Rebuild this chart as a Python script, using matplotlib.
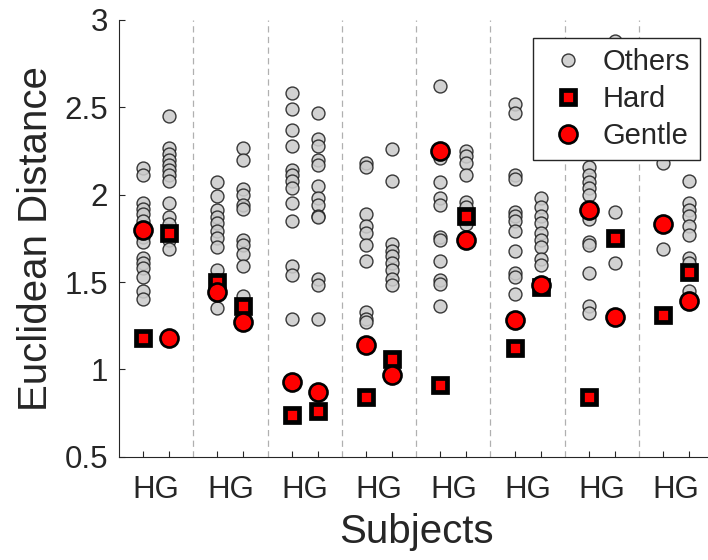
import matplotlib
matplotlib.use('Agg')
import matplotlib.pyplot as plt

subjects = [1, 2, 3, 4, 5, 6, 7, 8]
group_labels = ['HG'] * 8

# gray "Others" points, one list per subject, for the H column and the G column
others_h = [
  [2.15, 2.11, 1.95, 1.92, 1.89, 1.85, 1.76, 1.73, 1.64, 1.61, 1.58, 1.53, 1.45, 1.40],
  [2.07, 1.99, 1.91, 1.87, 1.84, 1.79, 1.75, 1.70, 1.57, 1.51, 1.35],
  [2.58, 2.49, 2.37, 2.28, 2.14, 2.11, 2.08, 2.04, 1.95, 1.85, 1.59, 1.54, 1.29],
  [2.18, 2.16, 1.89, 1.82, 1.78, 1.71, 1.62, 1.33, 1.29, 1.27],
  [2.62, 2.21, 2.07, 1.98, 1.94, 1.76, 1.74, 1.62, 1.51, 1.49, 1.36],
  [2.52, 2.47, 2.11, 2.09, 1.90, 1.88, 1.85, 1.79, 1.68, 1.55, 1.53, 1.43],
  [2.16, 2.11, 2.07, 2.04, 2.00, 1.86, 1.73, 1.71, 1.55, 1.36, 1.32],
  [2.18, 1.69],
]
others_g = [
  [2.45, 2.27, 2.23, 2.20, 2.17, 2.14, 2.11, 2.08, 1.95, 1.87, 1.83, 1.74, 1.69],
  [2.27, 2.20, 2.03, 2.00, 1.94, 1.92, 1.74, 1.71, 1.66, 1.59, 1.42],
  [2.47, 2.32, 2.28, 2.20, 2.17, 2.05, 1.98, 1.94, 1.88, 1.87, 1.52, 1.48, 1.29],
  [2.26, 2.08, 1.72, 1.68, 1.65, 1.61, 1.57, 1.52, 1.48],
  [2.25, 2.22, 2.18, 2.11, 1.96, 1.93, 1.86, 1.83],
  [1.98, 1.93, 1.88, 1.84, 1.78, 1.74, 1.70, 1.63, 1.60],
  [2.88, 1.90, 1.61],
  [2.08, 1.95, 1.91, 1.88, 1.82, 1.77, 1.64, 1.61, 1.45],
]

hard_h = [1.18, 1.50, 0.74, 0.84, 0.91, 1.12, 0.84, 1.31]
hard_g = [1.78, 1.36, 0.76, 1.06, 1.88, 1.47, 1.75, 1.56]
gentle_h = [1.80, 1.44, 0.93, 1.14, 2.25, 1.28, 1.91, 1.83]
gentle_g = [1.18, 1.27, 0.87, 0.97, 1.74, 1.48, 1.30, 1.39]

off = 0.175
dark = '#262626'

plt.rcParams['font.family'] = ['Liberation Sans', 'DejaVu Sans']

fig = plt.figure(figsize=(7.08, 5.6), dpi=100)
ax = fig.add_axes([0.1681, 0.1845, 0.8395, 0.7798])

# dashed separators between subjects
for k in subjects[:-1]:
  ax.axvline(k + 0.5, color='#b0b0b0', linestyle=(0, (5, 3.5)), linewidth=0.9, zorder=1)

gray_face = (0.8, 0.8, 0.8, 0.88)
gray_edge = (0.12, 0.12, 0.12, 0.88)
gray_size = 9.3
for i, k in enumerate(subjects):
  ax.plot([k - off] * len(others_h[i]), others_h[i], linestyle='none', marker='o',
          markersize=gray_size, markerfacecolor=gray_face, markeredgecolor=gray_edge,
          markeredgewidth=1.0, zorder=2)
  ax.plot([k + off] * len(others_g[i]), others_g[i], linestyle='none', marker='o',
          markersize=gray_size, markerfacecolor=gray_face, markeredgecolor=gray_edge,
          markeredgewidth=1.0, zorder=2)

xh = [k - off for k in subjects]
xg = [k + off for k in subjects]
ax.plot(xh, hard_h, linestyle='none', marker='s', markersize=9.4, markerfacecolor='red',
        markeredgecolor='black', markeredgewidth=3.4, zorder=3)
ax.plot(xg, hard_g, linestyle='none', marker='s', markersize=9.4, markerfacecolor='red',
        markeredgecolor='black', markeredgewidth=3.4, zorder=3)
ax.plot(xh, gentle_h, linestyle='none', marker='o', markersize=13, markerfacecolor='red',
        markeredgecolor='black', markeredgewidth=1.9, zorder=4)
ax.plot(xg, gentle_g, linestyle='none', marker='o', markersize=13, markerfacecolor='red',
        markeredgecolor='black', markeredgewidth=1.9, zorder=4)

# legend handles
h1, = ax.plot([], [], linestyle='none', marker='o', markersize=gray_size, markerfacecolor=gray_face,
              markeredgecolor=gray_edge, markeredgewidth=1.0, label='Others')
h2, = ax.plot([], [], linestyle='none', marker='s', markersize=9.4, markerfacecolor='red',
              markeredgecolor='black', markeredgewidth=3.4, label='Hard')
h3, = ax.plot([], [], linestyle='none', marker='o', markersize=13, markerfacecolor='red',
              markeredgecolor='black', markeredgewidth=1.9, label='Gentle')
leg = ax.legend(handles=[h1, h2, h3], loc='upper left', bbox_to_anchor=(532.7 / 708, 1 - 38.3 / 560),
                bbox_transform=fig.transFigure, fontsize=21, frameon=True, fancybox=False,
                borderpad=0.33, labelspacing=0.31, handlelength=1.78, handletextpad=0.3,
                borderaxespad=0)
leg.get_frame().set_edgecolor(dark)
leg.get_frame().set_linewidth(1.0)
leg.get_frame().set_alpha(1)
leg.set_zorder(10)
for t in leg.get_texts():
  t.set_color(dark)

ax.set_xlim(0.5, 8.5)
ax.set_ylim(0.5, 3)
# "HG" label under each subject, small inward ticks at the H and G columns
ax.set_xticks(subjects)
ax.set_xticklabels(group_labels)
ax.set_xticks(xh + xg, minor=True)
ax.set_yticks([0.5, 1, 1.5, 2, 2.5, 3])
ax.set_yticklabels(['0.5', '1', '1.5', '2', '2.5', '3'])
ax.tick_params(axis='both', direction='in', length=4, width=0.8, color=dark, labelcolor=dark,
               labelsize=22.5)
ax.tick_params(axis='x', which='major', length=0, pad=13)
ax.tick_params(axis='x', which='minor', direction='in', length=4, width=0.8, color=dark)
ax.tick_params(axis='y', pad=8)

ax.spines['top'].set_visible(False)
ax.spines['right'].set_visible(False)
ax.spines['left'].set_color(dark)
ax.spines['bottom'].set_color(dark)
ax.spines['left'].set_linewidth(0.8)
ax.spines['bottom'].set_linewidth(0.8)

ax.set_xlabel('Subjects', fontsize=29, color=dark, labelpad=6)
ax.set_ylabel('Euclidean Distance', fontsize=29, color=dark, labelpad=7)

fig.savefig('out.png', dpi=100)
